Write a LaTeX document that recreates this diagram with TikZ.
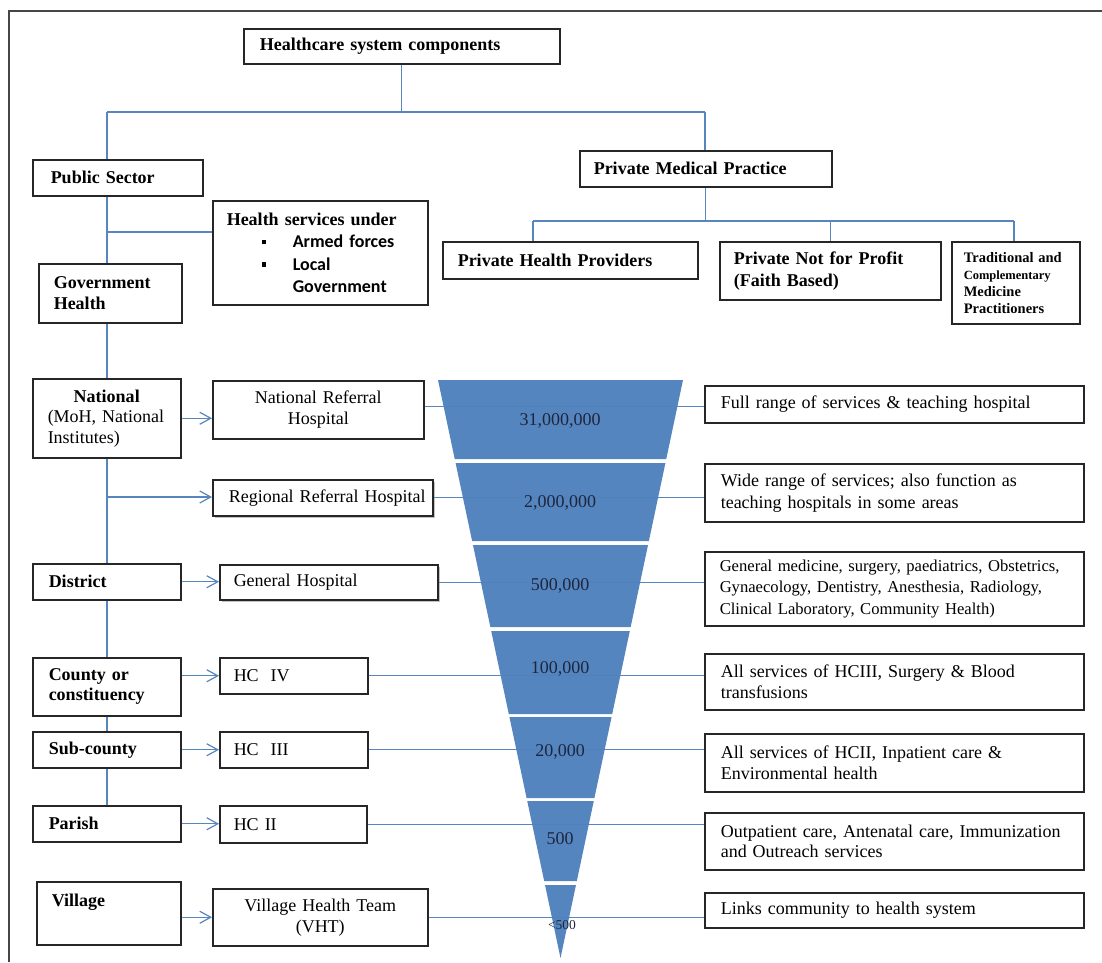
\documentclass[tikz,border=0pt]{standalone}
\usepackage{fontspec}
\setmainfont{Liberation Serif}
\newfontfamily\calib{Carlito}
\usetikzlibrary{arrows.meta,shadows,calc}
\definecolor{lineblue}{RGB}{88,133,190}
\definecolor{funnelblue}{RGB}{79,129,189}
\definecolor{numcol}{RGB}{30,38,62}
\definecolor{framecol}{RGB}{70,70,70}
\begin{document}
\begin{tikzpicture}[x=1pt,y=-1pt,
  box/.style={draw=black!85,line width=1.5pt,fill=white,inner ysep=0pt,anchor=north west,align=left,font=\fontsize{18}{22}\selectfont},
  shbox/.style={box,drop shadow={shadow xshift=2.5pt,shadow yshift=-2.5pt,fill=black!40,opacity=0.6}},
  conn/.style={draw=lineblue,line width=1.2pt},
  arr/.style={conn,-{Straight Barb[length=11pt,width=12pt]}},
  num/.style={text=numcol,font=\fontsize{18}{22}\selectfont,inner sep=0pt},
  seg/.style={fill=funnelblue,draw=none,fill opacity=0.97}]
\useasboundingbox (0,0) rectangle (1102,962);
% frame
\draw[framecol,line width=1.8pt] (1102,11) -- (9,11) -- (9,962);

% ---------- boxes (top part) ----------
\node[box,minimum width=316pt,minimum height=35pt,inner xsep=16pt,text width=284pt] (top) at (243,28) {\bfseries Healthcare system components};
\node[box,minimum width=170pt,minimum height=36pt,inner xsep=18pt,text width=134pt] (pub) at (32,159) {\bfseries Public Sector};
\node[box,minimum width=215pt,minimum height=104pt,inner xsep=14pt,text width=187pt,font=\fontsize{18}{22.3}\selectfont] (hs) at (212,200)
  {\bfseries Health services under\\
   \hspace*{35pt}\raisebox{3.5pt}{\rule{4.5pt}{4.5pt}}\hspace*{26.5pt}{\calib\bfseries Armed forces}\\
   \hspace*{35pt}\raisebox{3.5pt}{\rule{4.5pt}{4.5pt}}\hspace*{26.5pt}{\calib\bfseries Local}\\
   \hspace*{66pt}{\calib\bfseries Government}};
\node[box,minimum width=143pt,minimum height=59pt,inner xsep=15pt,text width=113pt,font=\fontsize{18}{21}\selectfont\bfseries] (gov) at (38,263) {Government\\Health};
\node[box,minimum width=252pt,minimum height=36pt,inner xsep=14pt,text width=224pt] (pmp) at (579,150) {\bfseries Private Medical Practice};
\node[box,minimum width=255pt,minimum height=37pt,inner xsep=15pt,text width=225pt] (php) at (442,241) {\bfseries Private Health Providers};
\node[box,minimum width=221pt,minimum height=58pt,inner xsep=14pt,text width=193pt,font=\fontsize{18}{22}\selectfont\bfseries] (pnp) at (719,241) {Private Not for Profit\\(Faith Based)};
\node[box,minimum width=128pt,minimum height=82pt,inner xsep=12pt,text width=104pt,font=\fontsize{14.5}{17}\selectfont\bfseries] (trad) at (951,241)
  {\mbox{Traditional and}\\{\fontsize{12.5}{15}\selectfont Complementary}\\Medicine\\Practitioners};

% ---------- left column ----------
\node[box,minimum width=148pt,minimum height=79pt,inner xsep=15pt,text width=118pt,font=\fontsize{18}{20.5}\selectfont] (nat) at (32,378)
  {\makebox[\linewidth][c]{\bfseries National}\\\mbox{(MoH, National}\\Institutes)};
\node[box,minimum width=148pt,minimum height=36pt,inner xsep=16pt,text width=116pt] (dis) at (32,563) {\bfseries District};
\node[box,minimum width=148pt,minimum height=58pt,inner xsep=16pt,text width=116pt,font=\fontsize{18}{20}\selectfont\bfseries] (cty) at (32,657) {County or\\constituency};
\node[box,minimum width=148pt,minimum height=36pt,inner xsep=16pt,text width=116pt] (sub) at (32,731) {\bfseries Sub-county};
\node[box,minimum width=148pt,minimum height=36pt,inner xsep=16pt,text width=116pt] (par) at (32,805) {\bfseries Parish};
\node[box,minimum width=144pt,minimum height=63pt,inner xsep=15pt,text width=114pt] (vil) at (36,881) {\bfseries Village\\[4pt]\mbox{}};

% ---------- facility column ----------
\node[box,minimum width=211pt,minimum height=58pt,inner xsep=12pt,text width=187pt,align=center,font=\fontsize{18}{21}\selectfont] (nrh) at (212,380) {National Referral\\Hospital};
\node[shbox,minimum width=220pt,minimum height=36pt,inner xsep=16pt,text width=188pt] (rrh) at (212,479) {\mbox{Regional Referral Hospital}};
\node[shbox,minimum width=218pt,minimum height=35pt,inner xsep=14pt,text width=190pt] (gh) at (219,564) {General Hospital};
\node[box,minimum width=148pt,minimum height=36pt,inner xsep=14pt,text width=120pt] (hc4) at (219,657) {HC\ \ IV};
\node[box,minimum width=148pt,minimum height=36pt,inner xsep=14pt,text width=120pt] (hc3) at (219,731) {HC\ \ III};
\node[box,minimum width=147pt,minimum height=37pt,inner xsep=14pt,text width=119pt] (hc2) at (219,805) {HC II};
\node[box,minimum width=215pt,minimum height=57pt,inner xsep=12pt,text width=191pt,align=center,font=\fontsize{18}{21}\selectfont] (vht) at (212,888) {Village Health Team\\(VHT)};

% ---------- right column ----------
\node[box,minimum width=379pt,minimum height=37pt,inner xsep=16pt,text width=347pt] (fr) at (704,385) {Full range of services \& teaching hospital};
\node[box,minimum width=379pt,minimum height=58pt,inner xsep=16pt,text width=347pt] (wr) at (704,463) {Wide range of services; also function as\\teaching hospitals in some areas};
\node[box,minimum width=379pt,minimum height=74pt,inner xsep=15pt,text width=349pt,font=\fontsize{16.6}{21.5}\selectfont] (gm) at (704,551)
  {\mbox{General medicine, surgery, paediatrics, Obstetrics,}\\Gynaecology, Dentistry, Anesthesia, Radiology,\\Clinical Laboratory, Community Health)};
\node[box,minimum width=379pt,minimum height=56pt,inner xsep=16pt,text width=347pt,font=\fontsize{18}{20.5}\selectfont] (a4) at (704,653) {All services of HCIII, Surgery \& Blood\\transfusions};
\node[box,minimum width=379pt,minimum height=58pt,inner xsep=16pt,text width=347pt,font=\fontsize{18}{21}\selectfont] (a3) at (704,733) {All services of HCII, Inpatient care \&\\Environmental health};
\node[box,minimum width=379pt,minimum height=57pt,inner xsep=16pt,text width=347pt,font=\fontsize{18}{20}\selectfont] (op) at (704,812) {\mbox{Outpatient care, Antenatal care, Immunization}\\and Outreach services};
\node[box,minimum width=379pt,minimum height=35pt,inner xsep=16pt,text width=347pt] (lk) at (704,892) {Links community to health system};

% ---------- tree connectors ----------
\coordinate (hL) at (107,112);
\coordinate (hR) at (705,112);
\coordinate (b1) at (107,232);
\coordinate (b2) at (107,497);
\coordinate (pL) at (533,221);
\coordinate (pR) at (1014,221);
\draw[conn] (top.south) -- (top.south |- hL);
\draw[conn] (hL) -- (hR);
\draw[conn] (hL) -- (hL |- pub.north);
\draw[conn] (hR) -- (hR |- pmp.north);
\draw[conn] (pmp.south) -- (pmp.south |- pL);
\draw[conn] (pL) -- (pR);
\draw[conn] (pL) -- (pL |- php.north);
\draw[conn] (pnp.north) -- (pnp.north |- pL);
\draw[conn] (pR) -- (pR |- trad.north);
\draw[conn] (pub.south -| hL) -- (gov.north -| hL);
\draw[conn] (b1) -- (b1 -| hs.west);
\draw[conn] (gov.south -| hL) -- (nat.north -| hL);
\draw[conn] (nat.south -| hL) -- (dis.north -| hL);
\draw[conn] (dis.south -| hL) -- (cty.north -| hL);
\draw[conn] (cty.south -| hL) -- (sub.north -| hL);
\draw[conn] (sub.south -| hL) -- (par.north -| hL);
\draw[arr] (nat.east) -- (nat.east -| nrh.west);
\draw[arr] (b2) -- (b2 -| rrh.west);
\draw[arr] (dis.east) -- (dis.east -| gh.west);
\draw[arr] (hc4.west -| cty.east) -- (hc4.west);
\draw[arr] (sub.east) -- (hc3.west);
\draw[arr] (par.east) -- (par.east -| hc2.west);
\draw[arr] (vht.west -| vil.east) -- (vht.west);

% ---------- level lines (behind funnel) ----------
\draw[conn] ([yshift=3pt]nrh.east) -- ([yshift=3pt]nrh.east -| fr.west);
\draw[conn] (rrh.east) -- (rrh.east -| wr.west);
\draw[conn] (gh.east) -- (gh.east -| gm.west);
\draw[conn] (hc4.east) -- (hc4.east -| a4.west);
\draw[conn] (hc3.east) -- (hc3.east -| a3.west);
\draw[conn] (hc2.east) -- (hc2.east -| op.west);
\draw[conn] (vht.east) -- (vht.east -| lk.west);

% ---------- funnel ----------
\fill[seg] (438,380) -- (683,380) -- (666.26,459) -- (454.74,459) -- cycle;
\fill[seg] (455.59,463) -- (665.41,463) -- (648.88,541) -- (472.12,541) -- cycle;
\fill[seg] (472.97,545) -- (648.03,545) -- (630.65,627) -- (490.35,627) -- cycle;
\fill[seg] (491.2,631) -- (629.8,631) -- (612.21,714) -- (508.79,714) -- cycle;
\fill[seg] (509.42,717) -- (611.58,717) -- (594.41,798) -- (526.59,798) -- cycle;
\fill[seg] (527.23,801) -- (593.77,801) -- (576.82,881) -- (544.18,881) -- cycle;
\fill[seg] (545.03,885) -- (575.97,885) -- (560.5,958) -- cycle;

\node[num] (n1) at (560,421) {31,000,000};
\node[num] (n2) at (560,503) {2,000,000};
\node[num] (n3) at (560,586) {500,000};
\node[num] (n4) at (560,669) {100,000};
\node[num] (n5) at (560,752) {20,000};
\node[num] (n6) at (560,839) {500};
\node[num,font=\fontsize{13.5}{15}\selectfont] (n7) at (562,925) {<500};
\end{tikzpicture}
\end{document}
